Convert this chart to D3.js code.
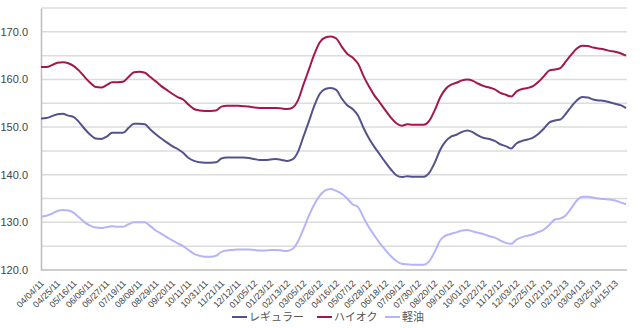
<!DOCTYPE html>
<html>
<head>
<meta charset="utf-8">
<script src="https://cdn.jsdelivr.net/npm/d3@7/dist/d3.min.js"></script>
<style>
  html, body { margin: 0; padding: 0; background: #fff; }
  svg { display: block; }
  text { font-family: "Liberation Sans", Arial, "Noto Sans CJK JP", sans-serif; }
</style>
</head>
<body>
<svg id="chart" width="640" height="328"></svg>
<script>
// Weekly retail prices (yen/litre), April 2011 – April 2013
const tickLabels = [
  "04/04/11","04/25/11","05/16/11","06/06/11","06/27/11","07/19/11","08/08/11","08/29/11",
  "09/20/11","10/11/11","10/31/11","11/21/11","12/12/11","01/05/12","01/23/12","02/13/12",
  "03/05/12","03/26/12","04/16/12","05/07/12","05/28/12","06/18/12","07/09/12","07/30/12",
  "08/20/12","09/10/12","10/01/12","10/22/12","11/12/12","12/03/12","12/25/12","01/21/13",
  "02/12/13","03/04/13","03/25/13","04/15/13"
];
const labelStep = 3;   // one date label every three weeks

const seriesNames = ["レギュラー", "ハイオク", "軽油"];

const regular = [
  151.8,151.9,152.3,152.7,152.8,152.4,152.1,151.0,149.6,148.4,
  147.6,147.5,148.0,148.8,148.8,148.8,149.8,150.7,150.7,150.6,
  149.5,148.5,147.6,146.8,146.0,145.4,144.6,143.5,142.9,142.6,
  142.5,142.5,142.6,143.4,143.6,143.6,143.6,143.6,143.5,143.3,
  143.1,143.1,143.2,143.3,143.1,142.9,143.2,144.8,148.0,151.2,
  154.5,157.0,158.0,158.2,157.8,156.0,154.6,153.8,152.4,149.8,
  147.6,145.8,144.2,142.6,141.1,139.9,139.5,139.7,139.6,139.6,
  139.6,140.4,142.5,145.2,147.0,148.0,148.4,149.0,149.3,148.9,
  148.2,147.7,147.5,147.1,146.4,146.0,145.5,146.6,147.1,147.4,
  147.8,148.6,149.7,151.0,151.4,151.6,152.8,154.3,155.6,156.3,
  156.2,155.8,155.6,155.5,155.2,154.9,154.6,154.0
];

const highOctane = [
  162.6,162.6,163.0,163.5,163.6,163.4,162.8,161.8,160.5,159.3,
  158.4,158.3,158.8,159.4,159.4,159.5,160.5,161.5,161.6,161.4,
  160.5,159.6,158.6,157.8,157.0,156.3,155.8,154.7,153.8,153.5,
  153.4,153.4,153.5,154.3,154.5,154.5,154.5,154.4,154.3,154.1,
  154.0,154.0,154.0,154.0,153.9,153.8,154.1,155.6,158.9,162.1,
  165.3,167.8,168.8,169.0,168.6,166.9,165.4,164.6,163.3,160.7,
  158.5,156.6,155.1,153.5,152.0,150.8,150.3,150.6,150.5,150.5,
  150.5,151.3,153.5,156.2,158.0,158.9,159.3,159.8,160.0,159.7,
  159.1,158.6,158.3,157.9,157.2,156.8,156.4,157.5,158.0,158.2,
  158.6,159.5,160.7,161.9,162.1,162.4,163.8,165.2,166.5,167.1,
  167.0,166.7,166.5,166.3,166.0,165.8,165.5,165.0
];

const diesel = [
  131.2,131.4,131.8,132.4,132.6,132.5,132.0,131.0,130.0,129.3,
  128.9,128.8,129.0,129.2,129.1,129.1,129.6,130.0,130.0,130.0,
  129.2,128.3,127.6,126.9,126.2,125.6,125.0,124.2,123.4,123.0,
  122.8,122.8,123.0,123.8,124.1,124.2,124.3,124.3,124.3,124.2,
  124.1,124.1,124.2,124.2,124.1,124.0,124.4,126.0,128.6,131.4,
  133.8,135.6,136.7,137.0,136.6,136.0,135.0,133.8,133.2,131.0,
  128.9,127.2,125.6,124.2,122.9,121.9,121.3,121.2,121.1,121.1,
  121.1,121.8,123.8,126.2,127.2,127.6,127.9,128.3,128.4,128.1,
  127.8,127.5,127.1,126.8,126.2,125.7,125.5,126.4,126.9,127.2,
  127.5,128.0,128.5,129.5,130.6,130.8,131.5,133.0,134.6,135.4,
  135.4,135.2,135.0,134.9,134.8,134.6,134.2,133.8
];

const yTicks = [120, 130, 140, 150, 160, 170];
const yGrid = [125, 130, 135, 140, 145, 150, 155, 160, 165, 170, 175];

const colors = ["#52528f", "#a3174f", "#b4b4fb"];

const svg = d3.select("#chart");
const plot = { left: 41, right: 626, top: 8, bottom: 270 };

const x = d3.scaleLinear().domain([0, regular.length - 1]).range([plot.left, plot.right]);
const y = d3.scaleLinear().domain([120, 175]).range([plot.bottom, plot.top]);

// horizontal gridlines
svg.append("g")
  .selectAll("line")
  .data(yGrid)
  .join("line")
  .attr("x1", plot.left).attr("x2", plot.right + 1)
  .attr("y1", d => y(d)).attr("y2", d => y(d))
  .attr("stroke", "#dcdcdc").attr("stroke-width", 1.5);

// y axis
const yAxis = svg.append("g")
  .attr("transform", `translate(${plot.left},0)`)
  .call(d3.axisLeft(y).tickValues(yTicks).tickSize(0).tickPadding(13).tickFormat(d3.format(".1f")));
yAxis.select(".domain").attr("stroke", "#bdbdbd").attr("stroke-width", 1.5);
yAxis.selectAll("text").attr("font-size", 11).attr("fill", "#444");

// x axis
const xTickIdx = tickLabels.map((_, i) => i * labelStep);
const xAxis = svg.append("g")
  .attr("transform", `translate(0,${plot.bottom})`)
  .call(d3.axisBottom(x).tickValues(xTickIdx).tickSize(0)
    .tickFormat(d => tickLabels[d / labelStep]));
xAxis.select(".domain").attr("stroke", "#bdbdbd").attr("stroke-width", 1.5)
  .attr("d", `M${plot.left},0H${plot.right + 1}`);
xAxis.selectAll("text")
  .attr("font-size", 9).attr("fill", "#444")
  .attr("text-anchor", "end")
  .attr("dy", 0)
  .attr("y", 0)
  .attr("transform", "translate(3,14) rotate(-45)");

// series lines
const line = d3.line()
  .x((d, i) => x(i))
  .y(d => y(d))
  .curve(d3.curveMonotoneX);

const allSeries = [regular, highOctane, diesel];
svg.append("g")
  .selectAll("path")
  .data([diesel, highOctane, regular].map(s => ({ values: s, idx: allSeries.indexOf(s) })))
  .join("path")
  .attr("d", d => line(d.values))
  .attr("fill", "none")
  .attr("stroke", d => colors[d.idx])
  .attr("stroke-width", 2)
  .attr("stroke-linejoin", "round");

// legend
const legendX = [232, 317, 385];
const legend = svg.append("g").attr("transform", "translate(0,317)");
const items = legend.selectAll("g")
  .data(seriesNames)
  .join("g")
  .attr("transform", (d, i) => `translate(${legendX[i]},0)`);
items.append("line")
  .attr("x1", 0).attr("x2", 15)
  .attr("stroke", (d, i) => colors[i]).attr("stroke-width", 2);
items.append("text")
  .attr("x", 17).attr("dy", "0.35em")
  .attr("font-size", 11).attr("fill", "#555")
  .style("font-family", "'Noto Sans CJK JP', sans-serif")
  .text(d => d);
</script>
</body>
</html>
